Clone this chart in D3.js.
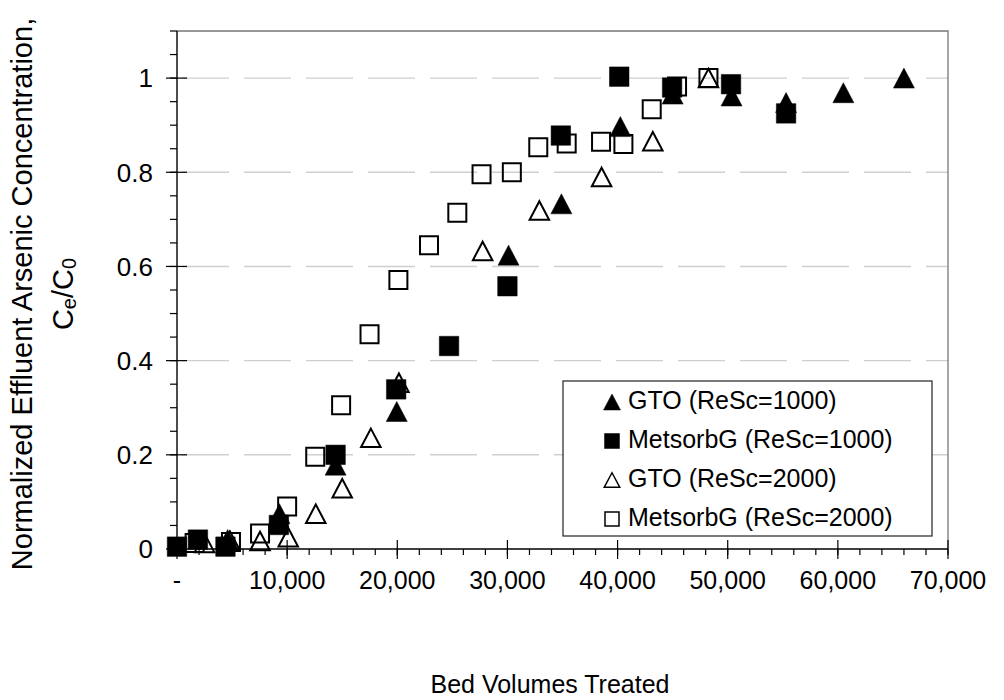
<!DOCTYPE html>
<html><head><meta charset="utf-8">
<script src="https://cdn.jsdelivr.net/npm/d3@7"></script>
<style>body{margin:0;background:#fff}svg{display:block}text{font-family:"Liberation Sans",Arial,sans-serif;fill:#000}</style>
</head><body><svg id="c" width="1004" height="700"></svg>
<script>
// ---- data ----
const seriesNames = ["GTO (ReSc=1000)", "MetsorbG (ReSc=1000)", "GTO (ReSc=2000)", "MetsorbG (ReSc=2000)"];
const gto1000_x = [4600, 9300, 14400, 19950, 30100, 34900, 40250, 45000, 50350, 55300, 60500, 66000];
const gto1000_y = [0.02, 0.075, 0.178, 0.292, 0.624, 0.733, 0.897, 0.966, 0.962, 0.948, 0.969, 1.0];
const met1000_x = [0, 1900, 4400, 9250, 14400, 19900, 24700, 30000, 34850, 40150, 44950, 50300, 55300];
const met1000_y = [0.005, 0.02, 0.005, 0.051, 0.2, 0.339, 0.431, 0.558, 0.878, 1.003, 0.98, 0.987, 0.925];
const gto2000_x = [2500, 4800, 7540, 10100, 12600, 15000, 17600, 20150, 27750, 32900, 38550, 43200, 48250];
const gto2000_y = [0.013, 0.018, 0.017, 0.025, 0.075, 0.129, 0.236, 0.353, 0.633, 0.719, 0.79, 0.866, 1.0];
const met2000_x = [1600, 4900, 7540, 10000, 12550, 14900, 17480, 20100, 22880, 25450, 27650, 30400, 32800, 35380, 38500, 40530, 43100, 45400, 48250];
const met2000_y = [0.013, 0.015, 0.033, 0.09, 0.196, 0.305, 0.456, 0.571, 0.645, 0.714, 0.796, 0.80, 0.853, 0.861, 0.865, 0.86, 0.934, 0.982, 1.0];
const xTicks = [0, 10000, 20000, 30000, 40000, 50000, 60000, 70000];
const yTicks = [0, 0.2, 0.4, 0.6, 0.8, 1];
const xTitle = "Bed Volumes Treated";
const yTitle1 = "Normalized Effluent Arsenic Concentration,";

// ---- layout ----
const svg = d3.select("#c");
const L = 177, R = 948, T = 31, B = 549;
const x = d3.scaleLinear().domain([0, 70000]).range([L, R]);
const y = d3.scaleLinear().domain([0, 1.1]).range([B, T]);
const FONT = 25;

// gridlines
svg.append("g").selectAll("line").data(yTicks.filter(v => v > 0)).join("line")
  .attr("x1", L).attr("x2", R).attr("y1", d => y(d)).attr("y2", d => y(d))
  .attr("stroke", "#cfcfcf").attr("stroke-width", 1.4).attr("stroke-dasharray", "47,15").attr("stroke-dashoffset", -5);

// plot border (top/right)
svg.append("path").attr("d", `M${L},${T}H${R}V${B}`).attr("fill", "none").attr("stroke", "#777").attr("stroke-width", 1.3);

// x axis
const xMinor = d3.range(0, 70001, 2000);
const gx = svg.append("g");
gx.append("line").attr("x1", L).attr("x2", R).attr("y1", B).attr("y2", B).attr("stroke", "#000").attr("stroke-width", 1.4);
gx.selectAll("line.mi").data(xMinor).join("line").attr("class", "mi")
  .attr("x1", d => x(d)).attr("x2", d => x(d)).attr("y1", B).attr("y2", B + 6).attr("stroke", "#000").attr("stroke-width", 1.2);
gx.selectAll("line.ma").data(xTicks).join("line").attr("class", "ma")
  .attr("x1", d => x(d)).attr("x2", d => x(d)).attr("y1", B - 9).attr("y2", B + 10).attr("stroke", "#000").attr("stroke-width", 1.2);
gx.selectAll("text").data(xTicks).join("text")
  .attr("x", d => x(d)).attr("y", 589).attr("text-anchor", "middle").attr("font-size", FONT)
  .text(d => d === 0 ? "-" : d3.format(",")(d));

// y axis
const yMinor = d3.range(0, 1.1001, 0.05);
const gy = svg.append("g");
gy.append("line").attr("x1", L).attr("x2", L).attr("y1", T).attr("y2", B).attr("stroke", "#000").attr("stroke-width", 1.4);
gy.selectAll("line.mi").data(yMinor).join("line").attr("class", "mi")
  .attr("x1", L - 7).attr("x2", L).attr("y1", d => y(d)).attr("y2", d => y(d)).attr("stroke", "#000").attr("stroke-width", 1.2);
gy.selectAll("line.ma").data(yTicks).join("line").attr("class", "ma")
  .attr("x1", L - 11).attr("x2", L + 10).attr("y1", d => y(d)).attr("y2", d => y(d)).attr("stroke", "#000").attr("stroke-width", 1.2);
gy.selectAll("text").data(yTicks).join("text")
  .attr("x", 153).attr("y", d => y(d)).attr("dy", "0.36em").attr("text-anchor", "end").attr("font-size", 26)
  .text(d => d === 0 || d === 1 ? String(d) : d3.format(".1f")(d));

// axis titles
svg.append("text").attr("x", 550).attr("y", 693).attr("text-anchor", "middle").attr("font-size", 25).text(xTitle);
const yt = svg.append("g").attr("transform", "translate(0,294) rotate(-90)");
yt.append("text").attr("x", 0).attr("y", 32).attr("text-anchor", "middle").attr("font-size", 29).text(yTitle1);
const t2 = yt.append("text").attr("x", 0).attr("y", 73).attr("text-anchor", "middle").attr("font-size", 29);
t2.append("tspan").text("C");
t2.append("tspan").attr("font-size", 20).attr("dy", 3).text("e");
t2.append("tspan").attr("dy", -3).text("/C");
t2.append("tspan").attr("font-size", 20).attr("dy", 3).text("0");

// markers
function triPath(w, h) { return `M0,${-h/2}L${w/2},${h/2}L${-w/2},${h/2}Z`; }
function sqPath(s) { return `M${-s/2},${-s/2}h${s}v${s}h${-s}Z`; }
const series = [
  {xs: gto2000_x, ys: gto2000_y, shape: "tri", filled: false},
  {xs: met2000_x, ys: met2000_y, shape: "sq", filled: false},
  {xs: met1000_x, ys: met1000_y, shape: "sq", filled: true},
  {xs: gto1000_x, ys: gto1000_y, shape: "tri", filled: true},
];
series.forEach(s => {
  const pts = s.xs.map((v, i) => [v, s.ys[i]]);
  svg.append("g").selectAll("path").data(pts).join("path")
    .attr("transform", d => `translate(${x(d[0])},${y(d[1])})`)
    .attr("d", s.shape === "tri" ? (s.filled ? triPath(21, 20) : triPath(19.5, 18.5)) : (s.filled ? sqPath(19.5) : sqPath(18)))
    .attr("fill", s.filled ? "#000" : "none")
    .attr("stroke", "#000").attr("stroke-width", s.filled ? 0.5 : 2).attr("stroke-linejoin", "miter");
});

// legend
const lg = svg.append("g");
lg.append("rect").attr("x", 563).attr("y", 381).attr("width", 369).attr("height", 155)
  .attr("fill", "#fff").attr("stroke", "#222").attr("stroke-width", 1.2);
const legendShapes = [
  {shape: "tri", filled: true}, {shape: "sq", filled: true}, {shape: "tri", filled: false}, {shape: "sq", filled: false}
];
seriesNames.forEach((n, i) => {
  const cy = 400 + i * 39;
  const s = legendShapes[i];
  lg.append("path").attr("transform", `translate(612,${cy + 2})`)
    .attr("d", s.shape === "tri" ? (s.filled ? triPath(17, 16) : triPath(15.5, 14.5)) : (s.filled ? sqPath(15) : sqPath(14)))
    .attr("fill", s.filled ? "#000" : "none").attr("stroke", "#000").attr("stroke-width", s.filled ? 0.5 : 1.5);
  lg.append("text").attr("x", 628).attr("y", cy + 9).attr("font-size", FONT).text(n);
});
</script></body></html>
